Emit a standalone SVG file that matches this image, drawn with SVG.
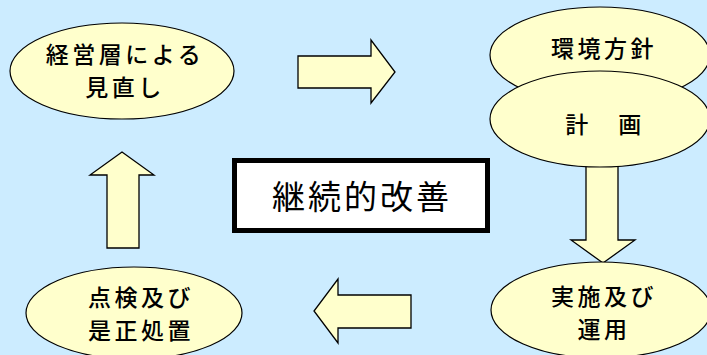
<svg xmlns="http://www.w3.org/2000/svg" width="707" height="355" viewBox="0 0 707 355">
<style>
.bg{fill:#CCECFF}
.el{fill:#FFFFCC;stroke:#000;stroke-width:1.2}
.ar{fill:#FFFFCC;stroke:#000;stroke-width:1.3;stroke-linejoin:miter}
.t{font-family:"Noto Sans CJK JP","Noto Sans CJK SC",sans-serif;font-size:23px;font-weight:500;letter-spacing:3.5px;fill:#000;text-anchor:middle;dominant-baseline:central}
.big{font-size:33px;letter-spacing:3px;font-weight:400}
</style>
<rect class="bg" x="0" y="0" width="707" height="355"/>
<g id="connectors">
<polygon class="ar" points="298,56 371,56 371,40 395,72 371,103 371,88 298,88"/>
<polygon class="ar" points="586,150 618,150 618,240 635,240 603,263 571,240 586,240"/>
<polygon class="ar" points="411,295 338,295 338,279 314,311 338,343 338,328 411,328"/>
<polygon class="ar" points="107,248 139,248 139,175 154,175 122,152 90,175 107,175"/>
</g>
<g id="node-review">
<ellipse class="el" cx="122" cy="71" rx="112" ry="48"/>
<text class="t" x="125" y="53">経営層による</text>
<text class="t" x="125" y="86">見直し</text>
</g>
<g id="node-policy">
<ellipse class="el" cx="600" cy="55" rx="110" ry="48"/>
<text class="t" x="604" y="47">環境方針</text>
</g>
<g id="node-plan">
<ellipse class="el" cx="600" cy="119" rx="110" ry="48"/>
<text class="t" x="605" y="123">計　画</text>
</g>
<g id="node-do">
<ellipse class="el" cx="601" cy="310" rx="110" ry="48"/>
<text class="t" x="604" y="295">実施及び</text>
<text class="t" x="604" y="328">運用</text>
</g>
<g id="node-check">
<ellipse class="el" cx="134" cy="313" rx="108" ry="46"/>
<text class="t" x="141" y="296">点検及び</text>
<text class="t" x="141" y="329">是正処置</text>
</g>
<g id="node-center">
<rect x="234.5" y="160.5" width="253" height="70" fill="#FFFFFF" stroke="#000" stroke-width="5"/>
<text class="t big" x="362" y="195">継続的改善</text>
</g>
</svg>
